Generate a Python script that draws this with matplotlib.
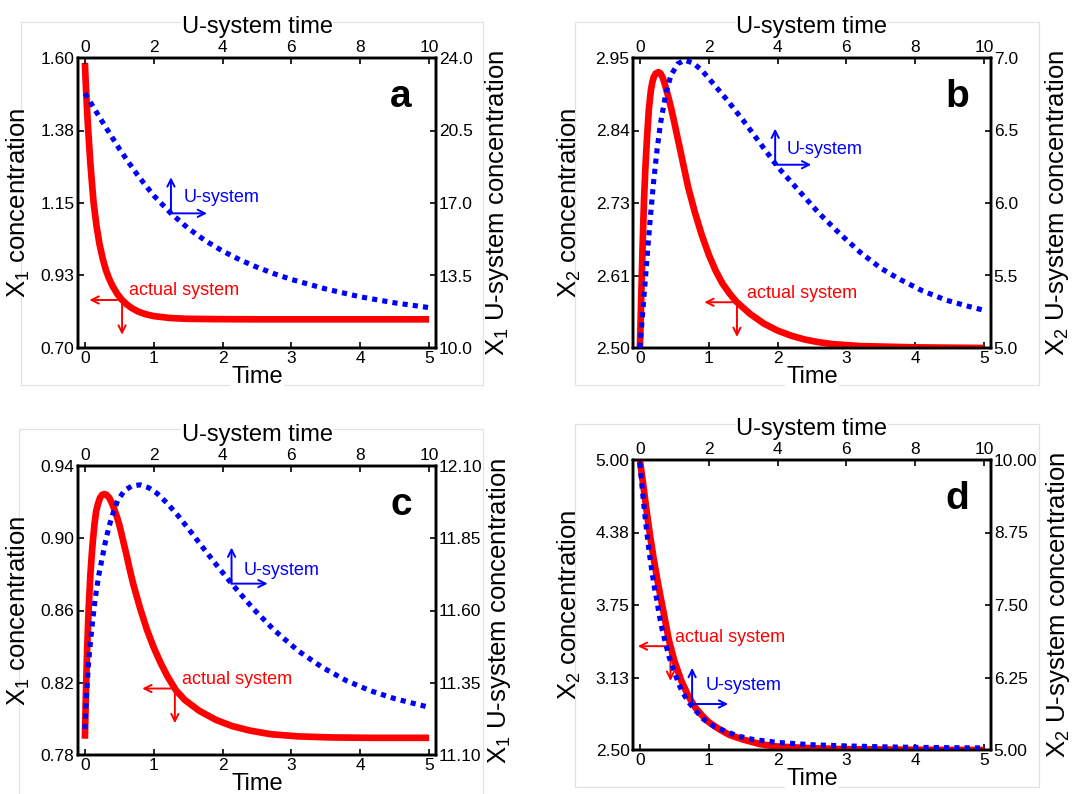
import matplotlib
matplotlib.use("Agg")
import matplotlib.pyplot as plt
from matplotlib.patches import Rectangle

plt.rcParams['font.family'] = ['Liberation Sans', 'DejaVu Sans']
plt.rcParams['mathtext.fontset'] = 'custom'
plt.rcParams['mathtext.rm'] = 'Liberation Sans'
plt.rcParams['mathtext.it'] = 'Liberation Sans:italic'
plt.rcParams['mathtext.bf'] = 'Liberation Sans:bold'

# ---------------- data ----------------
# panel a
a_time = [0, 0.01, 0.02, 0.035, 0.047, 0.08, 0.1, 0.127, 0.17, 0.21, 0.258, 0.305, 0.35, 0.40, 0.47, 0.54,
          0.61, 0.68, 0.775, 0.88, 1.0, 1.24, 1.48, 1.95, 2.5, 3.0, 4.0, 5.0]
a_x1 = [1.585, 1.536, 1.489, 1.425, 1.38, 1.273, 1.219, 1.15, 1.077, 1.025, 0.978, 0.942, 0.916, 0.893, 0.868,
        0.849, 0.835, 0.824, 0.813, 0.805, 0.799, 0.793, 0.7906, 0.7895, 0.789, 0.789, 0.789, 0.789]
a_utime = [0, 0.25, 0.5, 0.75, 1.0, 1.25, 1.5, 1.75, 2.0, 2.5, 3.0, 3.5, 4.0, 4.5, 5.0, 5.5, 6.0, 7.0, 8.0,
           9.0, 10.0]
a_x1u = [22.3, 21.62, 20.94, 20.28, 19.62, 19.01, 18.42, 17.88, 17.36, 16.5, 15.78, 15.18, 14.68, 14.26, 13.9,
         13.585, 13.31, 12.85, 12.47, 12.18, 11.95]

# panel b
b_time = [0, 0.02, 0.04, 0.06, 0.08, 0.1, 0.13, 0.16, 0.18, 0.2, 0.23, 0.27, 0.3, 0.33, 0.36, 0.4, 0.45, 0.5,
          0.6, 0.7, 0.8, 0.9, 1.0, 1.1, 1.2, 1.3, 1.4, 1.6, 1.8, 2.0, 2.2, 2.4, 2.6, 2.8, 3.2, 3.6, 4.0, 5.0]
b_x2 = [2.50, 2.58, 2.66, 2.73, 2.78, 2.82, 2.87, 2.90, 2.912, 2.92, 2.926, 2.928, 2.926, 2.92, 2.91, 2.895,
        2.874, 2.85, 2.80, 2.75, 2.71, 2.675, 2.645, 2.62, 2.60, 2.585, 2.572, 2.553, 2.538, 2.527, 2.519,
        2.513, 2.509, 2.506, 2.503, 2.502, 2.501, 2.50]
b_utime = [0, 0.06, 0.12, 0.2, 0.3, 0.4, 0.5, 0.6, 0.75, 0.9, 1.1, 1.3, 1.55, 1.8, 2.0, 2.5, 3.0, 3.5, 4.0,
           4.6, 5.2, 5.8, 6.4, 7.0, 7.5, 8.2, 8.9, 9.5, 10.0]
b_x2u = [5.0, 5.18, 5.36, 5.60, 5.89, 6.15, 6.37, 6.55, 6.75, 6.88, 6.96, 6.985, 6.965, 6.915, 6.86, 6.72,
         6.57, 6.41, 6.25, 6.09, 5.93, 5.79, 5.66, 5.55, 5.48, 5.395, 5.33, 5.29, 5.26]

# panel c
c_time = [0, 0.014, 0.033, 0.056, 0.08, 0.1, 0.117, 0.14, 0.164, 0.19, 0.221, 0.25, 0.282, 0.315, 0.352,
          0.39, 0.423, 0.46, 0.5, 0.55, 0.6, 0.65, 0.7, 0.8, 0.9, 1.0, 1.1, 1.2, 1.32, 1.45, 1.66, 1.9,
          2.14, 2.4, 2.7, 3.1, 3.6, 4.2, 5.0]
c_x1 = [0.789, 0.813, 0.839, 0.862, 0.880, 0.891, 0.899, 0.908, 0.915, 0.919, 0.9225, 0.924, 0.9245, 0.924,
        0.9225, 0.9197, 0.9165, 0.9125, 0.9075, 0.8995, 0.8915, 0.883, 0.875, 0.8615, 0.8495, 0.8395, 0.831,
        0.8235, 0.816, 0.8105, 0.8045, 0.7995, 0.796, 0.7935, 0.7915, 0.7903, 0.7897, 0.7895, 0.7895]
c_utime = [0, 0.05, 0.1, 0.16, 0.23, 0.31, 0.4, 0.5, 0.6, 0.7, 0.8, 0.95, 1.15, 1.35, 1.6, 1.85, 2.1, 2.4,
           2.7, 3.0, 3.4, 3.8, 4.25, 4.9, 5.5, 6.2, 6.9, 7.6, 8.3, 9.0, 10.0]
c_x1u = [11.19, 11.31, 11.41, 11.49, 11.57, 11.65, 11.72, 11.78, 11.84, 11.89, 11.93, 11.98, 12.015, 12.03,
         12.035, 12.025, 12.005, 11.97, 11.929, 11.884, 11.822, 11.761, 11.695, 11.605, 11.532, 11.46, 11.403,
         11.357, 11.322, 11.295, 11.265]

# panel d
d_time = [0, 0.05, 0.1, 0.15, 0.2, 0.25, 0.3, 0.35, 0.42, 0.5, 0.6, 0.7, 0.8, 0.9, 1.0, 1.15, 1.3, 1.5,
          1.75, 2.0, 2.5, 3.0, 4.0, 5.0]
d_x2 = [5.0, 4.78, 4.55, 4.34, 4.15, 3.98, 3.82, 3.67, 3.45, 3.27, 3.10, 2.97, 2.87, 2.80, 2.74, 2.68, 2.63,
        2.59, 2.55, 2.53, 2.515, 2.507, 2.502, 2.50]
d_utime = [0, 0.05, 0.1, 0.16, 0.22, 0.28, 0.35, 0.42, 0.5, 0.56, 0.65, 0.75, 0.85, 1.0, 1.12, 1.25, 1.45,
           1.65, 1.85, 2.15, 2.5, 2.85, 3.3, 4.0, 5.0, 6.0, 7.0, 8.0, 9.0, 10.0]
d_x2u = [9.95, 9.62, 9.31, 8.97, 8.66, 8.37, 8.08, 7.81, 7.56, 7.33, 7.07, 6.83, 6.60, 6.35, 6.15, 5.98, 5.80,
         5.66, 5.53, 5.41, 5.32, 5.24, 5.18, 5.13, 5.09, 5.07, 5.055, 5.045, 5.04, 5.035]

# ticks
time_ticks = [0, 1, 2, 3, 4, 5]
utime_ticks = [0, 2, 4, 6, 8, 10]
a_left_ticks = [0.70, 0.925, 1.15, 1.375, 1.60]
a_left_labels = ['0.70', '0.93', '1.15', '1.38', '1.60']
a_right_ticks = [10.0, 13.5, 17.0, 20.5, 24.0]
a_right_labels = ['10.0', '13.5', '17.0', '20.5', '24.0']
b_left_ticks = [2.50, 2.6125, 2.725, 2.8375, 2.95]
b_left_labels = ['2.50', '2.61', '2.73', '2.84', '2.95']
b_right_ticks = [5.0, 5.5, 6.0, 6.5, 7.0]
b_right_labels = ['5.0', '5.5', '6.0', '6.5', '7.0']
c_left_ticks = [0.78, 0.82, 0.86, 0.90, 0.94]
c_left_labels = ['0.78', '0.82', '0.86', '0.90', '0.94']
c_right_ticks = [11.10, 11.35, 11.60, 11.85, 12.10]
c_right_labels = ['11.10', '11.35', '11.60', '11.85', '12.10']
d_left_ticks = [2.50, 3.125, 3.75, 4.375, 5.00]
d_left_labels = ['2.50', '3.13', '3.75', '4.38', '5.00']
d_right_ticks = [5.00, 6.25, 7.50, 8.75, 10.00]
d_right_labels = ['5.00', '6.25', '7.50', '8.75', '10.00']

RED = '#ff0000'
BLUE = '#0000ff'
W, H = 1092, 794

fig = plt.figure(figsize=(W / 100, H / 100), dpi=100)


def fx(px):
    return px / W


def fy(py):
    return 1 - py / H


def frame(x0, y0, x1, y1):
    fig.add_artist(Rectangle((fx(x0), fy(y1)), fx(x1 - x0), (y1 - y0) / H,
                             transform=fig.transFigure, fill=False,
                             edgecolor='#e2e2e2', lw=0.9, zorder=0))


def arrows(ax, corner, dirs, color):
    for d in dirs:
        ax.annotate('', xy=corner, xycoords='data', xytext=d, textcoords='offset points',
                    arrowprops=dict(arrowstyle='<-', color=color, lw=1.4, shrinkA=0, shrinkB=0,
                                    mutation_scale=13))


def panel(box, t, x, u, xu, lt, ll, rt, rl, ylim, y2lim, letter, sp,
          rc, rtoff, bc, btoff, ylx, y2lx):
    L, T, R, B = box
    ax = fig.add_axes([fx(L), fy(B), fx(R - L), (B - T) / H])
    ax2 = ax.twinx()
    ax3 = ax2.twiny()

    ax.plot(t, x, color=RED, lw=4.8, solid_capstyle='butt', solid_joinstyle='round', zorder=3)
    ax3.plot(u, xu, color=BLUE, lw=3.7, linestyle=(0, (1.0, 1.0)),
             dash_capstyle='butt', zorder=3)

    ax.set_xlim(-0.1, 5.1)
    ax3.set_xlim(-0.2, 10.2)
    ax.set_ylim(*ylim)
    ax2.set_ylim(*y2lim)

    ax.set_xticks(time_ticks)
    ax.set_xticklabels([str(v) for v in time_ticks])
    ax3.set_xticks(utime_ticks)
    ax3.set_xticklabels([str(v) for v in utime_ticks])
    ax.set_yticks(lt)
    ax.set_yticklabels(ll)
    ax2.set_yticks(rt)
    ax2.set_yticklabels(rl)

    for a in (ax, ax2, ax3):
        for s in a.spines.values():
            s.set_linewidth(1.7)
    ax.tick_params(axis='both', direction='in', length=4, width=1.2, labelsize=12.5, pad=2.5)
    ax2.tick_params(axis='y', direction='in', length=4, width=1.2, labelsize=12.5, pad=2)
    ax3.tick_params(axis='x', direction='in', length=4, width=1.2, labelsize=12.5, pad=2)

    ax.set_xlabel('Time', fontsize=17, labelpad=0,
                  bbox=dict(facecolor='white', edgecolor='none', pad=0.5))
    ax3.set_xlabel('U-system time', fontsize=17, labelpad=5,
                   bbox=dict(facecolor='white', edgecolor='none', pad=0.5))
    ax.set_ylabel('X$_{%s}$ concentration' % sp, fontsize=18.5)
    ax2.set_ylabel('X$_{%s}$ U-system concentration' % sp, fontsize=18.5)
    ax.yaxis.set_label_coords(ylx, 0.5)
    ax2.yaxis.set_label_coords(y2lx, 0.5)

    ax.text(0.872, 0.832, letter, transform=ax.transAxes, fontsize=28,
            fontweight='bold', ha='left', va='baseline')

    # actual system annotation
    arrows(ax, rc, [(-23.5, 0), (0, -25)], RED)
    ax.annotate('actual system', xy=rc, xytext=rtoff, textcoords='offset points',
                color=RED, fontsize=13, ha='left', va='baseline')
    # U-system annotation
    arrows(ax3, bc, [(0, 26), (26, 0)], BLUE)
    ax3.annotate('U-system', xy=bc, xytext=btoff, textcoords='offset points',
                 color=BLUE, fontsize=13, ha='left', va='baseline')


frame(21, 22, 483, 385)
frame(575, 22, 1039, 385)
frame(19, 429, 483, 800)
frame(575, 424, 1039, 787)

panel((78, 58, 436, 348), a_time, a_x1, a_utime, a_x1u,
      a_left_ticks, a_left_labels, a_right_ticks, a_right_labels,
      (0.70, 1.60), (10.0, 24.0), 'a', '1',
      (0.54, 0.849), (4.8, 3.4), (2.50, 16.5), (9.1, 8.4), -0.128, 1.132)
panel((633, 58, 991, 348), b_time, b_x2, b_utime, b_x2u,
      b_left_ticks, b_left_labels, b_right_ticks, b_right_labels,
      (2.50, 2.95), (5.0, 7.0), 'b', '2',
      (1.41, 2.571), (7.2, 2.9), (3.93, 6.264), (8.6, 7.9), -0.140, 1.144)
panel((78, 466, 436, 755), c_time, c_x1, c_utime, c_x1u,
      c_left_ticks, c_left_labels, c_right_ticks, c_right_labels,
      (0.78, 0.94), (11.10, 12.10), 'c', '1',
      (1.307, 0.8168), (5.0, 3.1), (4.26, 11.693), (8.6, 6.5), -0.128, 1.137)
panel((633, 460, 991, 750), d_time, d_x2, d_utime, d_x2u,
      d_left_ticks, d_left_labels, d_right_ticks, d_right_labels,
      (2.50, 5.00), (5.00, 10.00), 'd', '2',
      (0.444, 3.395), (3.6, 2.9), (1.517, 5.793), (10.0, 10.0), -0.140, 1.148)

fig.savefig('out.png', dpi=100)
